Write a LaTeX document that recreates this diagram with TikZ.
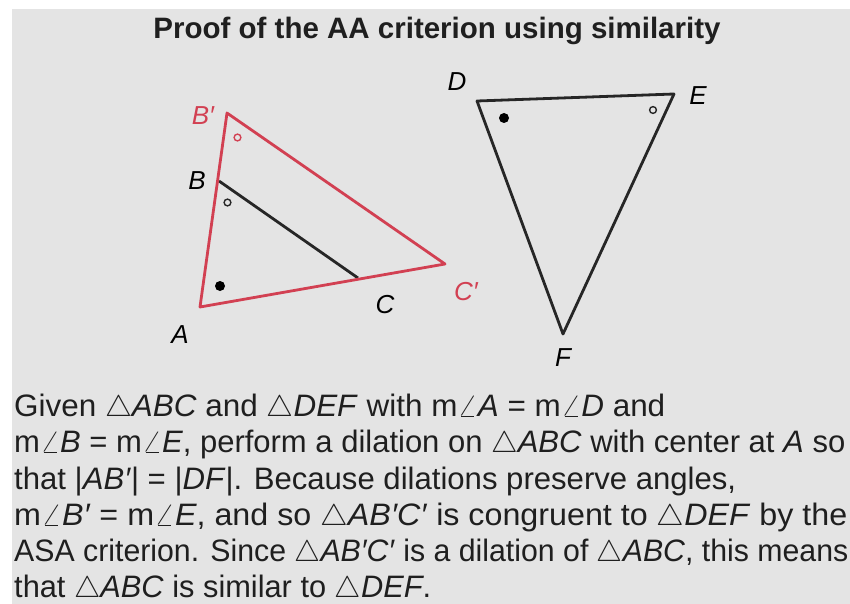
\documentclass[tikz,border=0pt]{standalone}
\usepackage{fontspec}
\usepackage{graphicx}
\setmainfont{Liberation Sans}
\newcommand\mytri{\scalebox{1.2}{$\triangle$}}
\newcommand\myang{\scalebox{1.25}[1.05]{$\angle$}}
\newcommand\mi[1]{\textit{#1}}
\newcommand\fitline[2]{\resizebox{#1pt}{\height}{#2}}
\definecolor{bg}{HTML}{E4E4E4}
\definecolor{redline}{RGB}{210,64,82}
\begin{document}
\begin{tikzpicture}[x=1pt,y=-1pt,
  redtri/.style={draw=redline,line width=2.8pt,line join=round},
  blacktri/.style={draw=black!85,line width=2.8pt,line join=round},
  vlabel/.style={font=\fontsize{26}{28}\selectfont\itshape,inner sep=0pt},
  textline/.style={anchor=base west,inner sep=0pt,text=black!88,font=\fontsize{31}{34}\selectfont}]
\useasboundingbox (0,0) rectangle (850,604);
\fill[white] (0,0) rectangle (850,604);
\fill[bg] (12,9) rectangle (850,604);
% title
\node[font=\fontsize{29.5}{32}\selectfont\bfseries,anchor=base,inner sep=0pt,text=black!88] (title) at (437,39) {Proof of the AA criterion using similarity};
% triangle ABC and dilation
\coordinate (A) at (200,307);
\coordinate (B) at (219,181);
\coordinate (C) at (358,278);
\coordinate (Bp) at (227,113);
\coordinate (Cp) at (445,264);
\draw[blacktri] (B) -- (C);
\draw[redtri] (A) -- (Bp) -- (Cp) -- cycle;
\fill (220,286) circle[radius=5pt];
\draw[redline,line width=1.4pt] (237.5,137.5) circle[radius=3.4pt];
\draw[black!85,line width=1.4pt] (227.5,202.5) circle[radius=3.4pt];
\node[vlabel] (lA) at (180,335) {A};
\node[vlabel] (lB) at (197,181) {B};
\node[vlabel] (lC) at (385,305) {C};
\node[vlabel,text=redline] (lBp) at (203,116) {B′};
\node[vlabel,text=redline] (lCp) at (466,292) {C′};
% triangle DEF
\coordinate (D) at (477,101);
\coordinate (E) at (674,94);
\coordinate (F) at (563,334);
\draw[blacktri] (D) -- (E) -- (F) -- cycle;
\fill (504,118) circle[radius=5pt];
\draw[black!85,line width=1.4pt] (653,110) circle[radius=3.4pt];
\node[vlabel] (lD) at (457,82) {D};
\node[vlabel] (lE) at (698,96) {E};
\node[vlabel] (lF) at (563,358) {F};
% text
\node[textline] (t1) at (14,416) {\fitline{651}{Given \mytri\mi{ABC} and \mytri\mi{DEF} with m\myang\mi{A} = m\myang\mi{D} and}};
\node[textline] (t2) at (14,452) {\fitline{831}{m\myang\mi{B} = m\myang\mi{E}, perform a dilation on \mytri\mi{ABC} with center at \mi{A} so}};
\node[textline] (t3) at (14,489) {\fitline{722}{that |\mi{AB′}| = |\mi{DF}|. Because dilations preserve angles,}};
\node[textline] (t4) at (14,525) {\fitline{833}{m\myang\mi{B′} = m\myang\mi{E}, and so \mytri\mi{AB′C′} is congruent to \mytri\mi{DEF} by the}};
\node[textline] (t5) at (14,561) {\fitline{834}{ASA criterion. Since \mytri\mi{AB′C′} is a dilation of \mytri\mi{ABC}, this means}};
\node[textline] (t6) at (14,597) {\fitline{417}{that \mytri\mi{ABC} is similar to \mytri\mi{DEF}.}};
\end{tikzpicture}
\end{document}
